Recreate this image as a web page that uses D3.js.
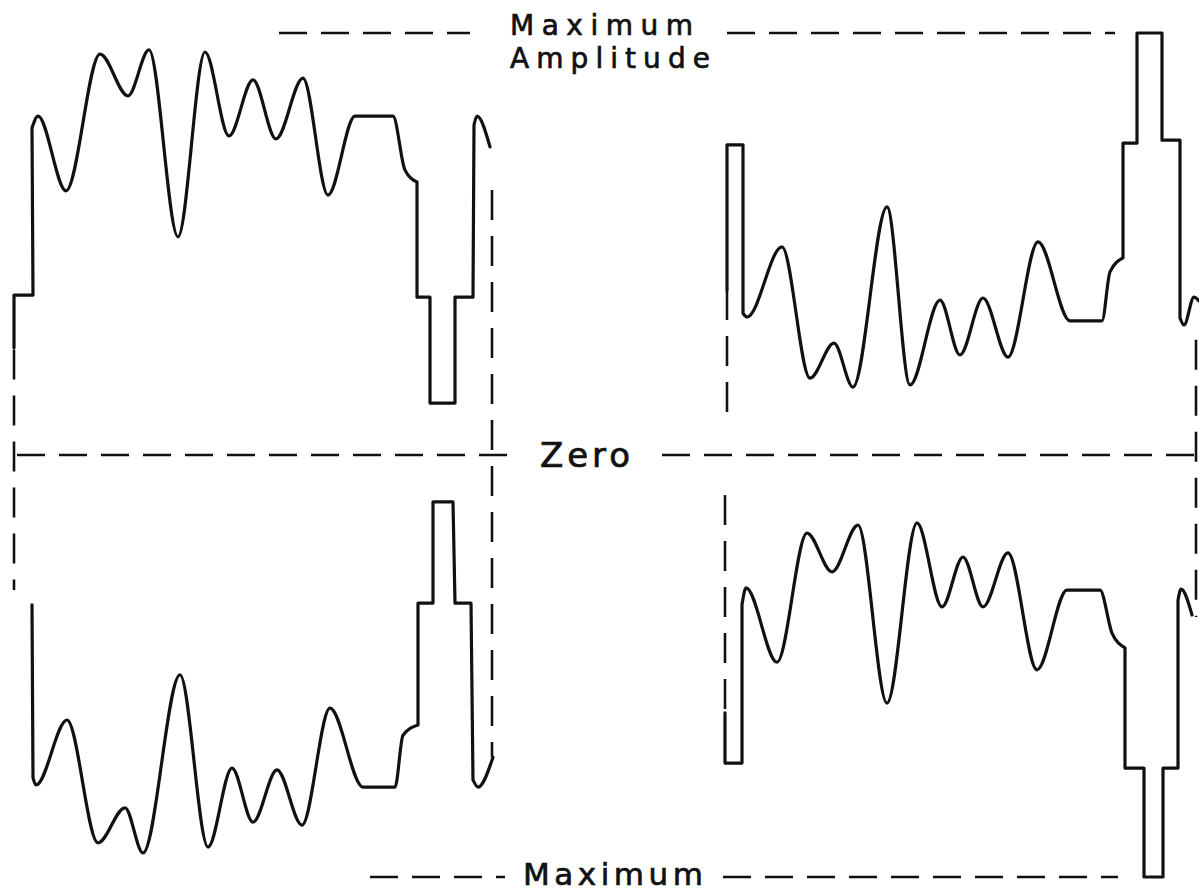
<!DOCTYPE html>
<html>
<head>
<meta charset="utf-8">
<script src="https://cdn.jsdelivr.net/npm/d3@7"></script>
<style>
  html, body { margin: 0; padding: 0; background: #ffffff; }
  svg { display: block; }
</style>
</head>
<body>
<svg id="chart" width="1199" height="893"></svg>
<script>
// time (arbitrary units) , amplitude (% of maximum), kind: "c" = sharp corner, "s" = smooth point
const waveTopLeft = [
  [1.4, 25.4, "c"], [1.4, 37.9, "c"], [3.3, 37.9, "c"], [3.2, 77.5, "c"],
  [3.8, 80.3, "s"], [6.6, 62.6, "s"], [10.0, 95.0, "s"], [12.8, 85.1, "s"],
  [14.9, 96.0, "s"], [17.8, 51.7, "s"], [20.5, 95.5, "s"], [22.9, 75.6, "s"],
  [25.3, 88.9, "s"], [27.6, 74.9, "s"], [30.3, 89.3, "s"], [32.8, 61.6, "s"],
  [35.5, 80.3, "s"], [39.3, 80.3, "s"], [40.5, 67.5, "s"], [41.7, 64.7, "c"],
  [41.7, 37.4, "c"], [43.0, 37.4, "c"], [43.0, 12.3, "c"], [45.5, 12.3, "c"],
  [45.5, 37.4, "c"], [47.3, 37.4, "c"], [47.4, 78.2, "c"], [47.7, 80.3, "s"],
  [49.0, 73.0, "c"]
];
const waveBottomLeft = [
  [3.2, -35.5, "c"], [3.3, -76.5, "c"], [3.6, -78.2, "s"], [6.7, -62.8, "s"],
  [9.8, -91.9, "s"], [12.5, -83.6, "s"], [14.3, -94.3, "s"], [18.0, -52.1, "s"],
  [20.8, -92.9, "s"], [23.2, -74.2, "s"], [25.3, -87.0, "s"], [27.7, -74.6, "s"],
  [30.2, -87.7, "s"], [33.0, -60.0, "s"], [36.3, -78.7, "s"], [39.5, -78.7, "s"],
  [40.3, -66.4, "s"], [41.8, -64.0, "c"], [41.8, -35.1, "c"], [43.3, -35.1, "c"],
  [43.3, -11.1, "c"], [45.3, -11.1, "c"], [45.5, -35.1, "c"], [47.1, -35.1, "c"],
  [47.3, -77.0, "c"], [47.8, -78.7, "s"], [49.3, -71.6, "c"]
];
const waveTopRight = [
  [72.7, 39.1, "c"], [72.7, 73.5, "c"], [74.3, 73.5, "c"], [74.3, 33.6, "c"],
  [74.7, 32.7, "s"], [78.2, 49.3, "s"], [81.0, 18.2, "s"], [83.4, 26.5, "s"],
  [85.3, 16.1, "s"], [88.7, 58.8, "s"], [91.0, 16.6, "s"], [94.0, 36.7, "s"],
  [96.0, 23.7, "s"], [98.3, 37.2, "s"], [100.8, 23.2, "s"], [103.8, 50.5, "s"],
  [107.0, 31.8, "s"], [110.2, 31.8, "s"], [111.0, 43.4, "s"], [112.3, 46.7, "c"],
  [112.3, 73.9, "c"], [113.7, 73.9, "c"], [113.7, 100.0, "c"], [116.2, 100.0, "c"],
  [116.2, 74.6, "c"], [118.0, 74.6, "c"], [118.0, 32.5, "c"], [118.4, 30.8, "s"],
  [119.4, 37.4, "s"], [119.9, 36.5, "c"]
];
const waveBottomRight = [
  [72.5, -61.1, "c"], [72.5, -73.0, "c"], [74.2, -73.0, "c"], [74.2, -35.5, "c"],
  [74.6, -31.5, "s"], [77.7, -49.1, "s"], [80.7, -18.5, "s"], [83.2, -27.7, "s"],
  [85.8, -16.6, "s"], [88.7, -58.8, "s"], [91.7, -16.1, "s"], [94.2, -36.0, "s"],
  [96.3, -24.2, "s"], [98.3, -36.0, "s"], [100.8, -23.2, "s"], [103.7, -50.9, "s"],
  [106.7, -32.0, "s"], [110.0, -32.0, "s"], [111.2, -42.2, "s"], [112.5, -45.7, "c"],
  [112.5, -74.2, "c"], [114.4, -74.2, "c"], [114.4, -100.0, "c"], [116.3, -100.0, "c"],
  [116.3, -74.2, "c"], [117.8, -74.2, "c"], [117.8, -34.4, "c"], [118.1, -31.8, "s"],
  [119.2, -37.9, "c"]
];

// dashed horizontal reference levels: [amplitude, tStart, tEnd]
const levelLines = [
  [100, 27.9, 47.0], [100, 72.7, 111.5],
  [0, 1.7, 52.0], [0, 66.2, 119.9],
  [-100, 37.0, 50.5], [-100, 72.3, 111.8]
];
// dashed vertical frame lines: [t, aStart, aEnd]
const frameLines = [
  [1.4, 25.0, -32.0],
  [49.2, 62.8, -71.6],
  [72.7, 39.1, 10.0],
  [72.5, -9.5, -61.1],
  [119.6, 27.3, -38.4]
];
// labels: lines of text, t (left), amplitude of each baseline, width in t units, font size
const labelTop = { lines: ["Maximum", "Amplitude"], t: 51.0, a: [99.5, 91.7], w: [18.3, 20.0], size: 28 };
const labelZero = { lines: ["Zero"], t: 54.0, a: [-2.8], w: [9.0], size: 34 };
const labelBottom = { lines: ["Maximum"], t: 52.3, a: [-101.9], w: [18.0], size: 31 };
const labels = [labelTop, labelZero, labelBottom];

const W = 1199, H = 893;
const svg = d3.select("#chart");
const x = d3.scaleLinear().domain([0, 119.9]).range([0, W]);
const y = d3.scaleLinear().domain([-100, 100]).range([877, 33]);

const ink = "#111";

// dashed guides
svg.append("g").selectAll("line.level").data(levelLines).join("line")
  .attr("x1", d => x(d[1])).attr("x2", d => x(d[2]))
  .attr("y1", d => y(d[0])).attr("y2", d => y(d[0]))
  .attr("stroke", ink).attr("stroke-width", 2.6)
  .attr("stroke-dasharray", "28 14");

svg.append("g").selectAll("line.frame").data(frameLines).join("line")
  .attr("x1", d => x(d[0])).attr("x2", d => x(d[0]))
  .attr("y1", d => y(d[1])).attr("y2", d => y(d[2]))
  .attr("stroke", ink).attr("stroke-width", 2.6)
  .attr("stroke-dasharray", "30 16");

// waveform path builder: runs between corners; runs with smooth points use monotone curve
const linLine = d3.line().x(d => x(d[0])).y(d => y(d[1])).curve(d3.curveLinear);
const smLine = d3.line().x(d => x(d[0])).y(d => y(d[1])).curve(d3.curveMonotoneX);
function wavePath(pts) {
  const runs = [];
  let start = 0;
  for (let i = 1; i < pts.length; i++) {
    if (pts[i][2] === "c" || i === pts.length - 1) {
      runs.push(pts.slice(start, i + 1));
      start = i;
    }
  }
  let d = "";
  runs.forEach((run, k) => {
    const seg = run.length > 2 ? smLine(run) : linLine(run);
    d += k === 0 ? seg : seg.replace(/^M/, "L");
  });
  return d;
}

const waves = [waveTopLeft, waveBottomLeft, waveTopRight, waveBottomRight];
svg.append("g").selectAll("path.wave").data(waves).join("path")
  .attr("d", wavePath)
  .attr("fill", "none")
  .attr("stroke", ink)
  .attr("stroke-width", 3.2)
  .attr("stroke-linejoin", "round")
  .attr("stroke-linecap", "round");

// labels (multi-line labels are one text element with tspans)
const texts = svg.append("g").selectAll("text").data(labels).join("text")
  .attr("font-family", "'DejaVu Sans', sans-serif")
  .attr("font-size", d => d.size)
  .attr("fill", ink)
  .attr("stroke", ink)
  .attr("stroke-width", 0.7);
texts.selectAll("tspan").data(d => d.lines.map((s, i) => ({ s, t: d.t, a: d.a[i], w: d.w[i] })))
  .join("tspan")
  .attr("x", d => x(d.t))
  .attr("y", d => y(d.a))
  .attr("textLength", d => x(d.w) - x(0))
  .attr("lengthAdjust", "spacing")
  .text(d => d.s);
</script>
</body>
</html>
